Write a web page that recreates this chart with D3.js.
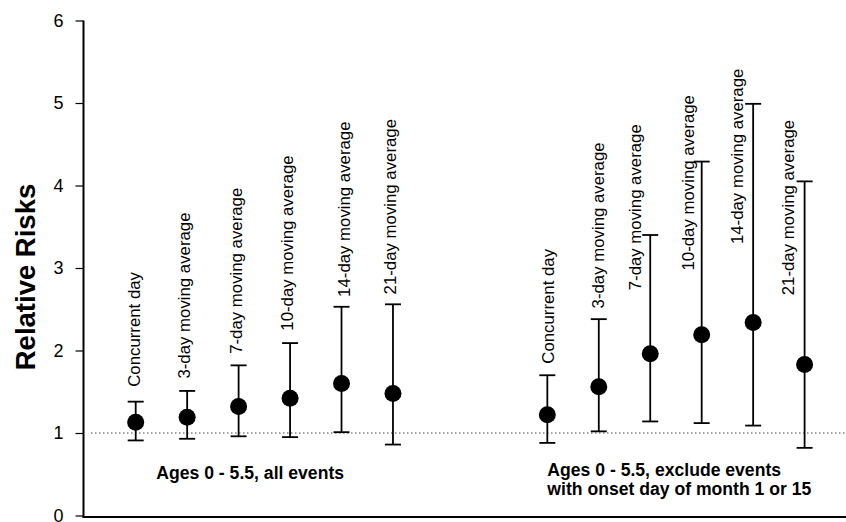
<!DOCTYPE html>
<html><head><meta charset="utf-8">
<script src="https://cdn.jsdelivr.net/npm/d3@7"></script>
<style>html,body{margin:0;padding:0;background:#fff;}svg{display:block;font-family:Arial,"Liberation Sans",Helvetica,sans-serif;}</style>
</head><body>
<svg id="c" width="846" height="522"></svg>
<script>
// ---- data ----
const labels = ["Concurrent day","3-day moving average","7-day moving average","10-day moving average","14-day moving average","21-day moving average",
                "Concurrent day","3-day moving average","7-day moving average","10-day moving average","14-day moving average","21-day moving average"];
const slots = [0,1,2,3,4,5, 8,9,10,11,12,13];
const rr    = [1.13,1.19,1.32,1.42,1.60,1.48, 1.22,1.56,1.96,2.19,2.34,1.83];
const lower = [0.91,0.93,0.96,0.95,1.01,0.86, 0.88,1.02,1.14,1.12,1.09,0.82];
const upper = [1.38,1.51,1.82,2.09,2.53,2.56, 1.70,2.38,3.40,4.29,4.99,4.05];
const labelStart = [1.56,1.66,1.96,2.24,2.65,2.68, 1.84,2.51,2.73,2.97,3.29,2.67];
const labelShift = [0,-0.02,-0.02,-0.02,0.08,-0.02, 0.04,0.02,-0.27,-0.24,-0.29,-0.29];
const yTicks = [0,1,2,3,4,5,6];
const groupNotes = [["Ages 0 - 5.5, all events"],["Ages 0 - 5.5, exclude events","with onset day of month 1 or 15"]];
const groupNoteSlot = [0.4, 8.0];

// ---- scales ----
const svg = d3.select("#c");
const y = d3.scaleLinear().domain([0,6]).range([515.5,20.5]);
const x = d3.scaleLinear().domain([0,13]).range([135.7,804.6]);
const axisX = 83.5;

// dotted reference line at RR = 1
svg.append("line").attr("x1",91).attr("x2",846).attr("y1",y(1)).attr("y2",y(1))
  .attr("stroke","#444").attr("stroke-width",1).attr("stroke-dasharray","1.5,2.5");

// y axis
const yAxis = d3.axisLeft(y).tickValues(yTicks).tickSize(8).tickPadding(12).tickFormat(d3.format("d"));
const ga = svg.append("g").attr("transform",`translate(${axisX},0)`).call(yAxis);
ga.select(".domain").remove();
ga.selectAll(".tick line").attr("stroke","#000").attr("stroke-width",1.2);
ga.selectAll(".tick text").attr("font-size",18).attr("fill","#000").attr("font-family","Arial, 'Liberation Sans', sans-serif");
svg.append("line").attr("x1",axisX).attr("x2",axisX).attr("y1",y(6)).attr("y2",517.5).attr("stroke","#000").attr("stroke-width",2);
// x baseline
svg.append("line").attr("x1",axisX-1).attr("x2",846).attr("y1",517).attr("y2",517).attr("stroke","#000").attr("stroke-width",2);

// y title
svg.append("text").attr("transform",`translate(35,277) rotate(-90)`)
  .attr("text-anchor","middle").attr("font-size",27.5).attr("font-weight","bold").text("Relative Risks");

// error bars
const g = svg.append("g");
const idx = d3.range(rr.length);
const capW = 16;
g.selectAll("line.v").data(idx).join("line")
  .attr("x1",i=>x(slots[i])).attr("x2",i=>x(slots[i]))
  .attr("y1",i=>y(lower[i])).attr("y2",i=>y(upper[i]))
  .attr("stroke","#000").attr("stroke-width",1.8);
g.selectAll("line.cu").data(idx).join("line")
  .attr("x1",i=>x(slots[i])-capW/2).attr("x2",i=>x(slots[i])+capW/2)
  .attr("y1",i=>y(upper[i])).attr("y2",i=>y(upper[i]))
  .attr("stroke","#000").attr("stroke-width",1.8);
g.selectAll("line.cl").data(idx).join("line")
  .attr("class","cl")
  .attr("x1",i=>x(slots[i])-capW/2).attr("x2",i=>x(slots[i])+capW/2)
  .attr("y1",i=>y(lower[i])).attr("y2",i=>y(lower[i]))
  .attr("stroke","#000").attr("stroke-width",1.8);
g.selectAll("circle").data(idx).join("circle")
  .attr("cx",i=>x(slots[i])).attr("cy",i=>y(rr[i])).attr("r",8.5).attr("fill","#000");

// rotated labels
const fs = 16.8;
svg.append("g").selectAll("text").data(idx).join("text")
  .attr("transform",i=>`translate(${x(slots[i]+labelShift[i]) + 0.26*fs},${y(labelStart[i])}) rotate(-90)`)
  .attr("font-size",fs).attr("fill","#000").text(i=>labels[i]);

// group notes
groupNotes.forEach((lines,k)=>{
  const t = svg.append("text").attr("font-size",17.6).attr("font-weight","bold").attr("fill","#000");
  lines.forEach((s,j)=>{
    t.append("tspan").attr("x",x(groupNoteSlot[k])).attr("y",(k===0?479:476)+j*19).text(s);
  });
});
</script>
</body></html>
